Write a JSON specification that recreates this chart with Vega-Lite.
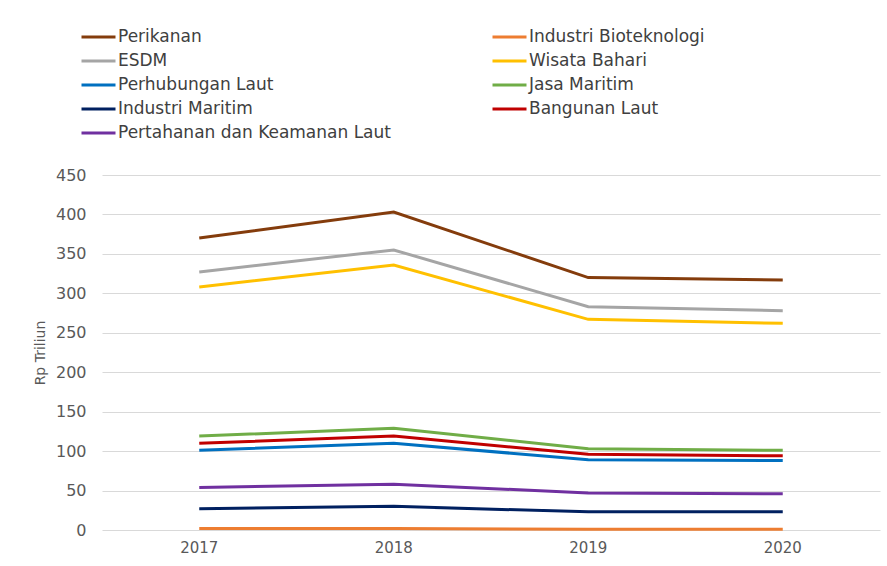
{
  "$schema": "https://vega.github.io/schema/vega-lite/v6.json",
  "width": 778,
  "height": 355,
  "autosize": {"type": "none"},
  "padding": {"left": 102, "top": 175, "right": 7, "bottom": 36},
  "background": "white",
  "config": {
    "view": {"stroke": null},
    "font": "DejaVu Sans"
  },
  "data": {
    "values": [
      {"sector": "Perikanan", "year": "2017", "value": 370},
      {"sector": "Perikanan", "year": "2018", "value": 403},
      {"sector": "Perikanan", "year": "2019", "value": 320},
      {"sector": "Perikanan", "year": "2020", "value": 317},
      {"sector": "Industri Bioteknologi", "year": "2017", "value": 2},
      {"sector": "Industri Bioteknologi", "year": "2018", "value": 2},
      {"sector": "Industri Bioteknologi", "year": "2019", "value": 1},
      {"sector": "Industri Bioteknologi", "year": "2020", "value": 1},
      {"sector": " ESDM", "year": "2017", "value": 327},
      {"sector": " ESDM", "year": "2018", "value": 355},
      {"sector": " ESDM", "year": "2019", "value": 283},
      {"sector": " ESDM", "year": "2020", "value": 278},
      {"sector": " Wisata Bahari", "year": "2017", "value": 308},
      {"sector": " Wisata Bahari", "year": "2018", "value": 336},
      {"sector": " Wisata Bahari", "year": "2019", "value": 267},
      {"sector": " Wisata Bahari", "year": "2020", "value": 262},
      {"sector": "Perhubungan Laut", "year": "2017", "value": 101},
      {"sector": "Perhubungan Laut", "year": "2018", "value": 110},
      {"sector": "Perhubungan Laut", "year": "2019", "value": 89},
      {"sector": "Perhubungan Laut", "year": "2020", "value": 88},
      {"sector": "Jasa Maritim", "year": "2017", "value": 119},
      {"sector": "Jasa Maritim", "year": "2018", "value": 129},
      {"sector": "Jasa Maritim", "year": "2019", "value": 103},
      {"sector": "Jasa Maritim", "year": "2020", "value": 101},
      {"sector": "Industri Maritim", "year": "2017", "value": 27},
      {"sector": "Industri Maritim", "year": "2018", "value": 30},
      {"sector": "Industri Maritim", "year": "2019", "value": 23},
      {"sector": "Industri Maritim", "year": "2020", "value": 23},
      {"sector": "Bangunan Laut", "year": "2017", "value": 110},
      {"sector": "Bangunan Laut", "year": "2018", "value": 119},
      {"sector": "Bangunan Laut", "year": "2019", "value": 96},
      {"sector": "Bangunan Laut", "year": "2020", "value": 94},
      {"sector": "Pertahanan dan Keamanan Laut", "year": "2017", "value": 54},
      {"sector": "Pertahanan dan Keamanan Laut", "year": "2018", "value": 58},
      {"sector": "Pertahanan dan Keamanan Laut", "year": "2019", "value": 47},
      {"sector": "Pertahanan dan Keamanan Laut", "year": "2020", "value": 46}
    ]
  },
  "mark": {"type": "line", "strokeWidth": 3},
  "encoding": {
    "x": {
      "field": "year",
      "type": "ordinal",
      "scale": {"type": "band", "paddingInner": 0, "paddingOuter": 0},
      "axis": {
        "title": null,
        "labelAngle": 0,
        "ticks": false,
        "domain": false,
        "labelFontSize": 15,
        "labelColor": "#595959",
        "labelPadding": 10
      }
    },
    "y": {
      "field": "value",
      "type": "quantitative",
      "scale": {"domain": [0, 450]},
      "axis": {
        "title": "Rp Triliun",
        "titleFontSize": 14,
        "titleFontWeight": "normal",
        "titleColor": "#595959",
        "titlePadding": 8,
        "values": [0, 50, 100, 150, 200, 250, 300, 350, 400, 450],
        "ticks": false,
        "domain": false,
        "labelFontSize": 16,
        "labelColor": "#595959",
        "labelPadding": 16,
        "gridColor": "#d9d9d9",
        "gridWidth": 1
      }
    },
    "color": {
      "field": "sector",
      "type": "nominal",
      "scale": {
        "domain": ["Perikanan", "Industri Bioteknologi", " ESDM", " Wisata Bahari", "Perhubungan Laut", "Jasa Maritim", "Industri Maritim", "Bangunan Laut", "Pertahanan dan Keamanan Laut"],
        "range": ["#843C0C", "#ED7D31", "#A5A5A5", "#FFC000", "#0070C0", "#70AD47", "#002060", "#C00000", "#7030A0"]
      },
      "legend": {
        "title": null,
        "orient": "none",
        "direction": "horizontal",
        "legendX": -22,
        "legendY": -148,
        "columns": 2,
        "columnPadding": 95,
        "rowPadding": 6,
        "symbolType": "M-1,0H3",
        "symbolSize": 289,
        "symbolStrokeWidth": 3,
        "labelFontSize": 17,
        "labelColor": "#404040",
        "labelOffset": 18,
        "labelLimit": 400
      }
    }
  }
}
